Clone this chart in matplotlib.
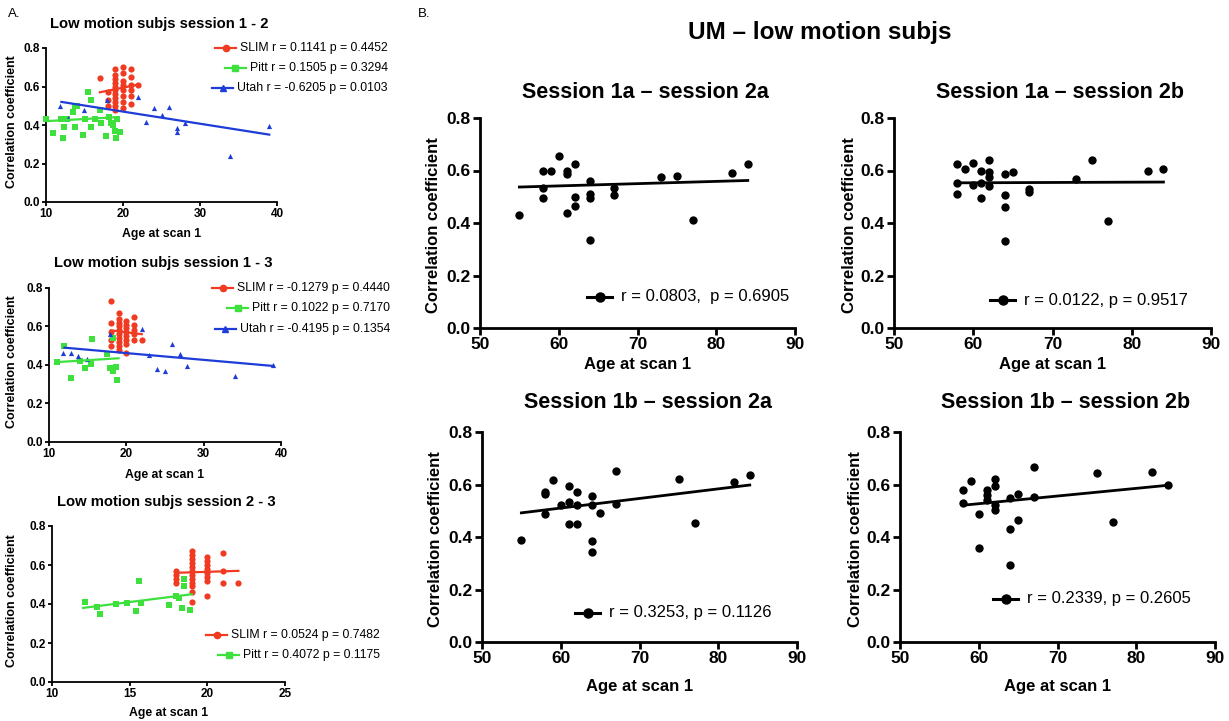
import numpy as np
import matplotlib
matplotlib.use("Agg")
import matplotlib.pyplot as plt
from matplotlib.lines import Line2D
from matplotlib import font_manager

W, H = 1229, 721
avail = {f.name for f in font_manager.fontManager.ttflist}
BASE = "Liberation Sans" if "Liberation Sans" in avail else "DejaVu Sans"
NARROW = "Liberation Sans Narrow" if "Liberation Sans Narrow" in avail else BASE
plt.rcParams["font.family"] = [BASE, "DejaVu Sans"]

RED, GREEN, BLUE = "#f03a22", "#3de03d", "#1e3cd8"

# ---------------- Panel A data ----------------
a_titles = ["Low motion subjs session 1 - 2", "Low motion subjs session 1 - 3",
            "Low motion subjs session 2 - 3"]

# A1 (session 1 - 2)
a1_slim_x = [17, 18, 18, 18] + [19]*11 + [20]*8 + [21]*6 + [22]
a1_slim_y = [0.645, 0.50, 0.53, 0.57,
             0.48, 0.50, 0.52, 0.54, 0.56, 0.58, 0.60, 0.62, 0.64, 0.66, 0.69,
             0.49, 0.52, 0.55, 0.58, 0.61, 0.63, 0.67, 0.70,
             0.51, 0.55, 0.58, 0.61, 0.65, 0.69,
             0.61]
a1_pitt_x = [10.0, 10.9, 12.2, 12.4, 12.7, 13.5, 13.8, 13.8, 14.8, 15.1, 15.5, 15.8,
             15.9, 16.4, 17.0, 17.2, 17.8, 18.2, 18.4, 18.7, 18.9, 19.1, 19.2, 19.6,
             14.0, 12.0]
a1_pitt_y = [0.43, 0.36, 0.335, 0.39, 0.43, 0.47, 0.50, 0.39, 0.35, 0.43, 0.57, 0.53,
             0.39, 0.43, 0.48, 0.41, 0.345, 0.44, 0.41, 0.40, 0.37, 0.33, 0.43, 0.365,
             0.50, 0.43]
a1_utah_x = [11.8, 12.9, 14.9, 17.9, 21.9, 23.0, 24.0, 25.0, 26.0, 27.0, 27.0, 28.0, 33.9, 39.0]
a1_utah_y = [0.50, 0.434, 0.478, 0.53, 0.547, 0.417, 0.486, 0.452, 0.495, 0.383, 0.366, 0.412, 0.241, 0.397]
a1_fit_slim = ([17, 22], [0.57, 0.61])
a1_fit_pitt = ([10, 19], [0.42, 0.44])
a1_fit_utah = ([12, 39], [0.52, 0.35])
a1_legend = ["SLIM r = 0.1141 p = 0.4452", "Pitt r = 0.1505 p = 0.3294",
             "Utah r = -0.6205 p = 0.0103"]

# A2 (session 1 - 3)
a2_slim_x = [18]*5 + [19]*10 + [20]*8 + [21]*5 + [22]
a2_slim_y = [0.73, 0.62, 0.57, 0.53, 0.50,
             0.48, 0.50, 0.52, 0.54, 0.56, 0.58, 0.60, 0.62, 0.64, 0.67,
             0.46, 0.51, 0.53, 0.55, 0.57, 0.59, 0.61, 0.63,
             0.53, 0.56, 0.58, 0.61, 0.65,
             0.53]
a2_pitt_x = [11.0, 12.0, 12.8, 14.0, 14.7, 15.4, 15.6, 17.5, 17.9, 18.3, 18.7, 18.8, 18.3]
a2_pitt_y = [0.415, 0.497, 0.332, 0.42, 0.384, 0.407, 0.537, 0.455, 0.384, 0.367, 0.39, 0.32, 0.54]
a2_utah_x = [11.8, 12.9, 13.8, 14.9, 17.9, 22.0, 22.9, 24.0, 25.0, 25.9, 27.0, 27.9, 34.0, 39.0]
a2_utah_y = [0.462, 0.462, 0.445, 0.433, 0.56, 0.589, 0.45, 0.381, 0.369, 0.507, 0.459, 0.397, 0.341, 0.40]
a2_fit_slim = ([18, 22], [0.58, 0.56])
a2_fit_pitt = ([11, 19], [0.415, 0.435])
a2_fit_utah = ([12, 39], [0.49, 0.395])
a2_legend = ["SLIM r = -0.1279 p = 0.4440", "Pitt r = 0.1022 p = 0.7170",
             "Utah r = -0.4195 p = 0.1354"]

# A3 (session 2 - 3)
a3_slim_x = [18]*4 + [19]*12 + [20]*8 + [21]*3 + [22]
a3_slim_y = [0.51, 0.53, 0.55, 0.57,
             0.41, 0.46, 0.49, 0.51, 0.53, 0.55, 0.57, 0.59, 0.61, 0.63, 0.65, 0.67,
             0.44, 0.52, 0.54, 0.56, 0.58, 0.60, 0.62, 0.64,
             0.51, 0.57, 0.66,
             0.51]
a3_pitt_x = [12.1, 12.9, 13.1, 14.1, 14.8, 15.4, 15.6, 15.7, 17.5, 18.0, 18.2, 18.4, 18.5, 18.5, 18.9]
a3_pitt_y = [0.408, 0.385, 0.348, 0.398, 0.403, 0.363, 0.517, 0.406, 0.394, 0.44, 0.432, 0.382, 0.526, 0.49, 0.368]
a3_fit_slim = ([18, 22], [0.56, 0.57])
a3_fit_pitt = ([12, 19], [0.38, 0.45])
a3_legend = ["SLIM r = 0.0524 p = 0.7482", "Pitt r = 0.4072 p = 0.1175"]

# ---------------- Panel B data ----------------
b_titles = ["Session 1a \u2013 session 2a", "Session 1a \u2013 session 2b",
            "Session 1b \u2013 session 2a", "Session 1b \u2013 session 2b"]
b1_x = [55, 58, 59, 58, 58, 60, 61, 61, 62, 61, 62, 62, 64, 64, 64, 64, 67, 67, 73, 75, 77, 82, 84]
b1_y = [0.432, 0.60, 0.60, 0.533, 0.495, 0.656, 0.60, 0.588, 0.626, 0.44, 0.50, 0.463,
        0.559, 0.512, 0.495, 0.334, 0.533, 0.508, 0.575, 0.58, 0.413, 0.592, 0.626]
b1_fit = ([55, 84], [0.537, 0.562])
b2_x = [58, 58, 58, 59, 60, 60, 61, 61, 61, 62, 62, 62, 62, 64, 65, 64, 64, 64, 67, 67, 73, 75, 77, 82, 84]
b2_y = [0.625, 0.553, 0.512, 0.606, 0.629, 0.546, 0.597, 0.553, 0.495, 0.639, 0.594, 0.576,
        0.54, 0.588, 0.594, 0.505, 0.46, 0.33, 0.53, 0.52, 0.567, 0.641, 0.409, 0.597, 0.606]
b2_fit = ([58, 84], [0.553, 0.556])
b3_x = [55, 58, 58, 58, 59, 60, 61, 61, 61, 62, 62, 62, 64, 64, 64, 64, 65, 67, 67, 75, 77, 82, 84]
b3_y = [0.39, 0.571, 0.563, 0.489, 0.618, 0.521, 0.593, 0.533, 0.451, 0.571, 0.521, 0.451,
        0.555, 0.521, 0.385, 0.343, 0.491, 0.651, 0.524, 0.62, 0.455, 0.61, 0.635]
b3_fit = ([55, 84], [0.492, 0.598])
b4_x = [58, 58, 59, 60, 60, 61, 61, 61, 62, 62, 62, 62, 64, 64, 64, 65, 65, 67, 67, 75, 77, 82, 84]
b4_y = [0.578, 0.53, 0.613, 0.489, 0.36, 0.578, 0.559, 0.542, 0.622, 0.593, 0.521, 0.504,
        0.55, 0.432, 0.292, 0.565, 0.466, 0.667, 0.552, 0.644, 0.457, 0.648, 0.6]
b4_fit = ([58, 84], [0.521, 0.597])
b_legends = ["r = 0.0803,  p = 0.6905", "r = 0.0122, p = 0.9517",
             "r = 0.3253, p = 0.1126", "r = 0.2339, p = 0.2605"]

# ---------------- helpers ----------------
fig = plt.figure(figsize=(W / 100, H / 100), dpi=100)
renderer = fig.canvas.get_renderer()


def fx(px):
    return px / W


def fy(py):
    return 1 - py / H


def make_ax(x0, x1, y0, y1, xlim, xticks, lw, fs, tl):
    ax = fig.add_axes([fx(x0), fy(y1), fx(x1 - x0), (y1 - y0) / H])
    ax.set_xlim(*xlim)
    ax.set_ylim(0, 0.8)
    ax.set_xticks(xticks)
    ax.set_yticks([0, 0.2, 0.4, 0.6, 0.8])
    ax.set_yticklabels(["0.0", "0.2", "0.4", "0.6", "0.8"])
    for s in ["top", "right"]:
        ax.spines[s].set_visible(False)
    for s in ["left", "bottom"]:
        ax.spines[s].set_linewidth(lw)
    ax.tick_params(direction="out", width=lw, length=tl, labelsize=fs, pad=1.5)
    for lab in ax.get_xticklabels() + ax.get_yticklabels():
        lab.set_fontweight("bold")
    return ax


def legend_right(right_px, y_px, text, color, marker, ms, fs, hlen=21, gap=4):
    t = fig.text(fx(right_px), fy(y_px), text, ha="right", va="center", fontsize=fs)
    bb = t.get_window_extent(renderer)
    x_end = bb.x0 - gap
    x_start = x_end - hlen
    ydisp = H - y_px
    fig.add_artist(Line2D([x_start / W, x_end / W], [ydisp / H, ydisp / H],
                          transform=fig.transFigure, color=color, lw=1.6))
    fig.add_artist(Line2D([(x_start + x_end) / 2 / W], [ydisp / H], transform=fig.transFigure,
                          color=color, marker=marker, ms=ms, lw=0))


def legend_left(x_px, y_px, text, fs, hlen=25, gap=9, ms=6.5):
    ydisp = H - y_px
    fig.add_artist(Line2D([x_px / W, (x_px + hlen) / W], [ydisp / H, ydisp / H],
                          transform=fig.transFigure, color="black", lw=2.2))
    fig.add_artist(Line2D([(x_px + hlen / 2) / W], [ydisp / H], transform=fig.transFigure,
                          color="black", marker="o", ms=ms, lw=0))
    fig.text(fx(x_px + hlen + gap), fy(y_px), text, ha="left", va="center", fontsize=fs)


# ---------------- Panel A ----------------
A_FS = 8.5
a_boxes = [(46, 277, 48, 202), (49, 281, 288, 442), (52, 285, 526, 682)]
a_xlims = [(10, 40), (10, 40), (10, 25)]
a_xticks = [[10, 20, 30, 40], [10, 20, 30, 40], [10, 15, 20, 25]]
a_title_y = [24, 263, 502]
a_xlabel_y = [234, 475, 713]
a_series = [
    [(a1_slim_x, a1_slim_y, a1_fit_slim, RED, "o"), (a1_pitt_x, a1_pitt_y, a1_fit_pitt, GREEN, "s"),
     (a1_utah_x, a1_utah_y, a1_fit_utah, BLUE, "^")],
    [(a2_slim_x, a2_slim_y, a2_fit_slim, RED, "o"), (a2_pitt_x, a2_pitt_y, a2_fit_pitt, GREEN, "s"),
     (a2_utah_x, a2_utah_y, a2_fit_utah, BLUE, "^")],
    [(a3_slim_x, a3_slim_y, a3_fit_slim, RED, "o"), (a3_pitt_x, a3_pitt_y, a3_fit_pitt, GREEN, "s")],
]
msize = {"o": 20, "s": 18, "^": 14}
a_leg = [(a1_legend, 388, [48, 68, 88]), (a2_legend, 390, [288, 308, 329]),
         (a3_legend, 380, [635, 655])]

for i in range(3):
    x0, x1, y0, y1 = a_boxes[i]
    ax = make_ax(x0, x1, y0, y1, a_xlims[i], a_xticks[i], 1.3, A_FS, 3)
    for sx, sy, fit, col, mk in a_series[i]:
        ax.scatter(sx, sy, s=msize[mk], c=col, marker=mk, linewidths=0, clip_on=False, zorder=3)
        ax.plot(fit[0], fit[1], color=col, lw=1.6, zorder=4)
    fig.text(fx((x0 + x1) / 2 - 2), fy(a_title_y[i]), a_titles[i], ha="center", va="center",
             fontsize=10.6, fontweight="bold")
    fig.text(fx((x0 + x1) / 2), fy(a_xlabel_y[i]), "Age at scan 1", ha="center", va="center",
             fontsize=8.8, fontweight="bold")
    fig.text(fx(12), fy((y0 + y1) / 2 - 3), "Correlation coefficient", ha="center", va="center",
             fontsize=9, fontweight="bold", rotation=90)
    texts, rpx, ys = a_leg[i]
    for (sx, sy, fit, col, mk), txt, yy in zip(a_series[i], texts, ys):
        legend_right(rpx, yy, txt, col, mk, 4.5, 8.8)

fig.text(fx(8), fy(14), "A.", ha="left", va="center", fontsize=9.5)

# ---------------- Panel B ----------------
B_FS = 12.5
b_boxes = [(480, 795, 118, 328), (894, 1211, 118, 328), (482, 797, 432, 642), (900, 1215, 432, 642)]
b_data = [(b1_x, b1_y, b1_fit), (b2_x, b2_y, b2_fit), (b3_x, b3_y, b3_fit), (b4_x, b4_y, b4_fit)]
b_title_y = [93, 93, 402, 402]
b_xlabel_y = [365, 365, 686, 686]
b_ylabel_x = [433, 850, 435, 855]
b_leg_pos = [(587, 297), (990, 300), (575, 613), (993, 599)]

for i in range(4):
    x0, x1, y0, y1 = b_boxes[i]
    ax = make_ax(x0, x1, y0, y1, (50, 90), [50, 60, 70, 80, 90], 2.0, B_FS, 5)
    bx, by, fit = b_data[i]
    ax.scatter(bx, by, s=36, c="black", marker="o", linewidths=0, clip_on=False, zorder=3)
    ax.plot(fit[0], fit[1], color="black", lw=2, zorder=4)
    fig.text(fx((x0 + x1) / 2 + 8), fy(b_title_y[i]), b_titles[i], ha="center", va="center",
             fontsize=15.5, fontweight="bold")
    fig.text(fx((x0 + x1) / 2), fy(b_xlabel_y[i]), "Age at scan 1", ha="center", va="center",
             fontsize=12, fontweight="bold")
    fig.text(fx(b_ylabel_x[i]), fy((y0 + y1) / 2 + 2), "Correlation coefficient", ha="center",
             va="center", fontsize=12, fontweight="bold", rotation=90)
    lx, ly = b_leg_pos[i]
    legend_left(lx, ly, b_legends[i], 12)

fig.text(fx(418), fy(14), "B.", ha="left", va="center", fontsize=9.5)
fig.text(fx(820), fy(33), "UM \u2013 low motion subjs", ha="center", va="center",
         fontsize=21 if NARROW != BASE else 17.5, fontweight="bold", family=[NARROW, "DejaVu Sans"])

fig.savefig("out.png", dpi=100)
